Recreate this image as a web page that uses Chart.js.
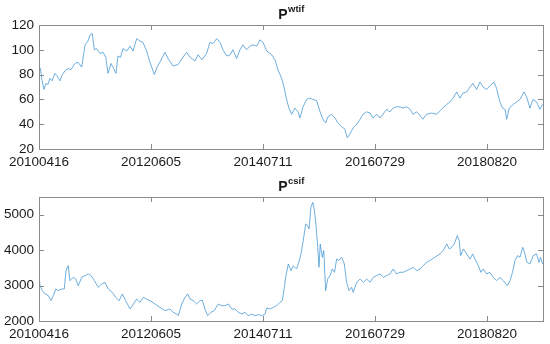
<!DOCTYPE html>
<html>
<head>
<meta charset="utf-8">
<script src="https://cdn.jsdelivr.net/npm/chart.js@4.4.1/dist/chart.umd.min.js"></script>
<style>
  html, body { margin: 0; padding: 0; background: #fff; }
  .panel { width: 550px; height: 172px; position: relative; }
</style>
</head>
<body>
<div class="panel"><canvas id="wti" width="550" height="172"></canvas></div>
<div class="panel"><canvas id="csi" width="550" height="172"></canvas></div>
<script>
/* ── DATA ─────────────────────────────────────────────── */
const TICK_DAYS   = [0, 540, 1080, 1620, 2160];
const TICK_LABELS = ['20100416', '20120605', '20140711', '20160729', '20180820'];
const LAST_DAY    = 2430;

/* P^wtif : trading-day index + price */
const wtiDays = [
  0,7,14,24,34,43,53,63,77,87,101,113,125,140,154,174,188,206,222,236,246,257,267,277,294,
  309,322,333,347,357,371,381,393,405,423,439,453,471,487,501,519,535,556,569,583,607,622,
  646,670,694,712,728,752,767,786,808,824,839,857,873,887,905,921,935,953,969,983,1001,1017,
  1032,1050,1065,1080,1098,1122,1138,1152,1170,1181,1194,1205,1218,1234,1249,1258,1273,1291,
  1306,1321,1339,1355,1369,1382,1393,1411,1427,1441,1459,1475,1486,1499,1514,1532,1548,1562,
  1580,1596,1610,1628,1644,1658,1676,1692,1707,1724,1740,1755,1773,1789,1803,1821,1837,1851,
  1869,1893,1917,1941,1966,1981,1996,2014,2030,2044,2062,2078,2092,2110,2126,2141,2158,2174,
  2194,2206,2222,2235,2247,2255,2267,2287,2303,2319,2338,2351,2367,2382,2399,2415,2428
];
const wtiPrices = [
  83,85,76,68,73,72,77,75,81,79,75,80,83,85,84,89,90,86,104,107,112,113,100,101,97,
  98,94,81,89,86,81,95,94,101,99,103,99,109,107,106,99,90,80,86,90,98,93,
  87,88,94,98,94,91,96,92,97,106,105,109,106,100,95,96,100,93,100,104,100,103,
  104,103,108,106,99,96,92,84,77,70,60,53,48,53,50,45,54,60,
  61,60,59,50,44,41,46,48,45,41,38,36,29,32,37,40,44,48,
  50,49,45,48,45,48,52,50,53,54,54,53,54,52,48,50,47,44,
  48,49,48,52,56,58,61,66,61,65,66,70,73,68,74,70,68,71,
  74,69,58,53,52,44,53,56,58,60,66,62,53,60,58,52,56
];

/* P^csif : trading-day index + price */
const csiDays = [
  0,5,16,29,45,58,69,81,92,109,122,130,141,149,165,177,189,206,222,238,251,267,286,302,318,
  334,353,370,386,402,418,439,455,471,487,503,519,535,559,583,607,631,647,664,672,688,704,
  717,728,744,760,776,787,800,813,829,845,864,881,897,913,929,945,961,977,993,1009,1025,1041,
  1057,1074,1090,1098,1114,1130,1146,1162,1173,1183,1189,1202,1215,1226,1242,1255,1263,1274,
  1286,1294,1302,1311,1320,1327,1335,1344,1350,1356,1366,1373,1382,1392,1403,1414,1425,1435,
  1446,1459,1472,1483,1495,1507,1515,1532,1548,1564,1580,1596,1612,1628,1644,1660,1676,1692,
  1708,1724,1740,1756,1773,1789,1805,1821,1837,1853,1869,1885,1909,1933,1949,1966,1978,1990,
  2002,2017,2026,2033,2046,2062,2078,2091,2102,2118,2130,2142,2158,2174,2190,2206,2222,2238,
  2258,2271,2283,2295,2308,2319,2332,2341,2352,2367,2383,2399,2411,2418,2428
];
const csiPrices = [
  3280,3000,2856,2763,2715,2573,2715,2904,2856,2904,2904,3421,3562,3138,3233,3185,2997,3233,3280,3328,3280,3138,2950,3045,3090,
  2904,2810,2668,2573,2763,2573,2339,2480,2620,2527,2668,2620,2573,2480,2386,2292,2339,2245,2198,2150,2480,2668,
  2763,2620,2573,2480,2573,2590,2339,2150,2245,2292,2480,2433,2433,2480,2339,2339,2245,2198,2245,2150,2198,2150,
  2180,2150,2198,2367,2339,2386,2433,2527,2573,2950,3234,3610,3421,3562,3468,3700,3893,4268,
  4740,4700,4598,5210,5350,5160,4740,4080,3517,4174,3800,3987,2856,3185,3280,3468,3375,3750,
  3705,3800,3610,3093,2856,2950,2810,3093,3185,3093,3185,3093,3233,3280,3328,3233,3280,3328,
  3468,3328,3375,3375,3421,3468,3516,3421,3468,3562,3657,3705,3800,3893,3987,4174,4033,4080,
  4174,4410,4268,3845,4033,3893,3750,3893,3750,3562,3375,3468,3328,3375,3233,3140,3233,3140,
  2997,3140,3375,3705,3845,3800,4080,3940,3657,3610,3845,3893,3657,3800,3610
];

/* ── STYLE ────────────────────────────────────────────── */
const LINE_COLOR = '#4a9ad6';
const AXIS_COLOR = '#8a8a8a';
const TEXT_COLOR = '#1a1a1a';
const FONT       = 'Liberation Sans, Arial, Helvetica, sans-serif';

/* box + inward ticks, MATLAB-like */
const boxPlugin = {
  id: 'box',
  afterDraw(chart) {
    const { ctx, chartArea: a, scales } = chart;
    const len = 5;
    ctx.save();
    ctx.strokeStyle = AXIS_COLOR;
    ctx.lineWidth = 1;
    ctx.strokeRect(Math.round(a.left) + 0.5, Math.round(a.top) + 0.5,
                   Math.round(a.right - a.left), Math.round(a.bottom - a.top));
    ctx.beginPath();
    scales.x.ticks.forEach(t => {
      const x = Math.round(scales.x.getPixelForValue(t.value)) + 0.5;
      ctx.moveTo(x, a.bottom); ctx.lineTo(x, a.bottom - len);
      ctx.moveTo(x, a.top);    ctx.lineTo(x, a.top + len);
    });
    scales.y.ticks.forEach(t => {
      const y = Math.round(scales.y.getPixelForValue(t.value)) + 0.5;
      ctx.moveTo(a.left, y);  ctx.lineTo(a.left + len, y);
      ctx.moveTo(a.right, y); ctx.lineTo(a.right - len, y);
    });
    ctx.stroke();
    ctx.restore();
  }
};

/* title with superscript */
const titlePlugin = {
  id: 'supTitle',
  afterDraw(chart, args, opts) {
    const { ctx, chartArea: a } = chart;
    ctx.save();
    ctx.fillStyle = TEXT_COLOR;
    ctx.textBaseline = 'alphabetic';
    ctx.font = 'bold 14px ' + FONT;
    const wb = ctx.measureText(opts.base).width;
    ctx.font = 'bold 9.5px ' + FONT;
    const ws = ctx.measureText(opts.sup).width;
    const x0 = (a.left + a.right) / 2 - (wb + ws) / 2;
    ctx.font = 'bold 14px ' + FONT;
    ctx.fillText(opts.base, x0, 18.5);
    ctx.font = 'bold 9.5px ' + FONT;
    ctx.fillText(opts.sup, x0 + wb + 0.5, 12);
    ctx.restore();
  }
};

function makeChart(id, days, prices, yMin, yMax, yTicks, sup) {
  const pts = days.map((d, i) => ({ x: d, y: prices[i] }));
  return new Chart(document.getElementById(id), {
    type: 'line',
    data: { datasets: [{
      data: pts,
      borderColor: LINE_COLOR,
      borderWidth: 0.8,
      pointRadius: 0,
      tension: 0,
      fill: false
    }] },
    options: {
      responsive: false,
      animation: false,
      devicePixelRatio: 1,
      layout: { padding: { left: 0, right: 7, top: 25, bottom: 0 } },
      plugins: {
        legend: { display: false },
        tooltip: { enabled: false },
        supTitle: { base: 'P', sup: sup }
      },
      scales: {
        x: {
          type: 'linear',
          min: 0, max: LAST_DAY,
          grid: { display: false, drawTicks: false },
          border: { display: false },
          afterBuildTicks: s => { s.ticks = TICK_DAYS.map(v => ({ value: v })); },
          afterFit: s => { s.height = 23; },
          ticks: {
            padding: 5,
            maxRotation: 0,
            autoSkip: false,
            color: TEXT_COLOR,
            font: { size: 13.5, family: FONT },
            callback: v => TICK_LABELS[TICK_DAYS.indexOf(v)] ?? ''
          }
        },
        y: {
          min: yMin, max: yMax,
          grid: { display: false, drawTicks: false },
          border: { display: false },
          afterBuildTicks: s => { s.ticks = yTicks.map(v => ({ value: v })); },
          afterFit: s => { s.width = 39; },
          ticks: {
            padding: 5,
            color: TEXT_COLOR,
            font: { size: 13.5, family: FONT },
            callback: v => String(v)
          }
        }
      }
    },
    plugins: [boxPlugin, titlePlugin]
  });
}

makeChart('wti', wtiDays, wtiPrices, 20, 120, [20, 40, 60, 80, 100, 120], 'wtif');
makeChart('csi', csiDays, csiPrices, 2000, 5500, [2000, 3000, 4000, 5000], 'csif');
</script>
</body>
</html>
